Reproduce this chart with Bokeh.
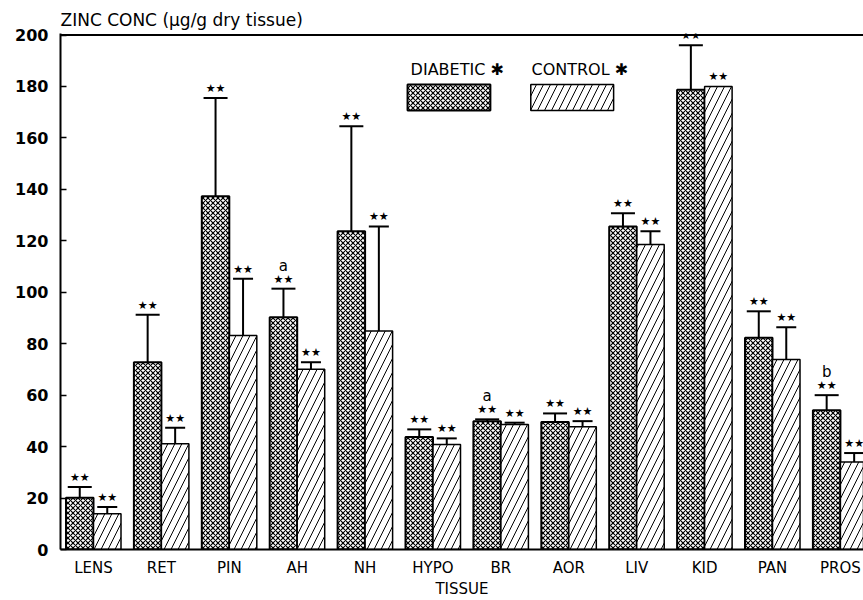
from bokeh.plotting import figure
from bokeh.models import Whisker, TeeHead, ColumnDataSource, Span, FixedTicker, Label, Range1d
from bokeh.core.properties import value
from bokeh.embed import file_html
from bokeh.resources import INLINE

tissues = ["LENS", "RET", "PIN", "AH", "NH", "HYPO", "BR", "AOR", "LIV", "KID", "PAN", "PROS"]
diabetic = [20.1, 72.8, 137.3, 90.3, 123.7, 43.7, 49.9, 49.6, 125.6, 178.7, 82.3, 54.1]
diabetic_err_top = [24.3, 91.3, 175.5, 101.4, 164.5, 46.7, 50.6, 52.9, 130.7, 196.0, 92.6, 60.0]
control = [13.9, 41.1, 83.2, 70.1, 84.9, 40.8, 48.6, 47.7, 118.6, 180.0, 73.9, 34.0]
control_err_top = [16.5, 47.3, 105.3, 72.8, 125.6, 43.2, 49.3, 49.9, 123.7, None, 86.4, 37.5]
control_err_bottom = [None, None, None, None, None, None, None, None, None, 140.0, None, None]
diabetic_letters = ["", "", "", "a", "", "", "a", "", "", "", "", "b"]
y_ticks = [0, 20, 40, 60, 80, 100, 120, 140, 160, 180, 200]

BAR_W = 0.405
idx = list(range(len(tissues)))
xd = [i - BAR_W / 2 for i in idx]
xc = [i + BAR_W / 2 for i in idx]

p = figure(width=863, height=600, output_backend="svg", toolbar_location=None,
           x_range=Range1d(-0.486, 11.34), y_range=Range1d(0, 200.6),
           min_border_left=60, min_border_right=0, min_border_top=33, min_border_bottom=51)
p.background_fill_color = "white"
p.border_fill_color = "white"
p.outline_line_color = None
p.xgrid.visible = False
p.ygrid.visible = False

p.title.text = "ZINC CONC (\u03bcg/g dry tissue)"
p.title.text_font = "DejaVu Sans"
p.title.text_font_size = "17px"
p.title.text_font_style = "normal"
p.title.text_color = "black"
p.title.align = "left"
p.title.standoff = 7

D_STYLE = dict(fill_color="white", line_color="black", line_width=2,
               hatch_pattern="x", hatch_color="black", hatch_scale=5, hatch_weight=1.2)
C_STYLE = dict(fill_color="white", line_color="black", line_width=1.5,
               hatch_pattern="/", hatch_color="black", hatch_scale=14, hatch_weight=1)

dsrc = ColumnDataSource(dict(x=xd, top=diabetic, hi=diabetic_err_top, lab=diabetic_letters))
csrc = ColumnDataSource(dict(x=xc, top=control))

p.vbar(x="x", top="top", width=BAR_W, bottom=0, source=dsrc, **D_STYLE)
p.vbar(x="x", top="top", width=BAR_W, bottom=0, source=csrc, **C_STYLE)

# error bars
p.add_layout(Whisker(base="x", lower="top", upper="hi", source=dsrc, dimension="height",
                     line_width=2, upper_head=TeeHead(size=24, line_width=2), lower_head=None))
cu = ColumnDataSource(dict(x=[xc[i] for i in idx if control_err_top[i] is not None],
                           lo=[control[i] for i in idx if control_err_top[i] is not None],
                           hi=[control_err_top[i] for i in idx if control_err_top[i] is not None]))
p.add_layout(Whisker(base="x", lower="lo", upper="hi", source=cu, dimension="height",
                     line_width=2, upper_head=TeeHead(size=20, line_width=2), lower_head=None))
cl = ColumnDataSource(dict(x=[xc[i] for i in idx if control_err_bottom[i] is not None],
                           lo=[control_err_bottom[i] for i in idx if control_err_bottom[i] is not None],
                           hi=[control[i] for i in idx if control_err_bottom[i] is not None]))
p.add_layout(Whisker(base="x", lower="lo", upper="hi", source=cl, dimension="height",
                     line_width=2, lower_head=TeeHead(size=14, line_width=2), upper_head=None))

# significance stars
star_y_c = [control_err_top[i] if control_err_top[i] is not None else control[i] for i in idx]
p.text(x=xd, y=diabetic_err_top, text=value("\u2605\u2605"), text_font=value("DejaVu Sans"),
       text_font_size="11px", text_align="center", text_baseline="bottom", y_offset=-3,
       text_color="black")
p.text(x=xc, y=star_y_c, text=value("\u2605\u2605"), text_font=value("DejaVu Sans"),
       text_font_size="11px", text_align="center", text_baseline="bottom", y_offset=-3,
       text_color="black")
p.text(x="x", y="hi", text="lab", source=dsrc, text_font=value("DejaVu Sans"),
       text_font_size="15px", text_align="center", text_baseline="bottom", y_offset=-14,
       text_color="black")

# legend
p.rect(x=[5.235], y=[175.7], width=1.22, height=10.1, **D_STYLE)
p.rect(x=[7.05], y=[175.7], width=1.22, height=10.1, **C_STYLE)
for lx, lt in [(4.67, "DIABETIC \u2731"), (6.45, "CONTROL \u2731")]:
    p.add_layout(Label(x=lx, y=186.6, text=lt, text_font="DejaVu Sans", text_font_size="16px",
                       text_baseline="middle", text_align="left", text_color="black"))

# frame top line
p.add_layout(Span(location=200, dimension="width", line_color="black", line_width=2))

# axes
p.yaxis.ticker = FixedTicker(ticks=y_ticks)
p.yaxis.major_tick_in = 6
p.yaxis.major_tick_out = 0
p.yaxis.minor_tick_line_color = None
p.yaxis.major_tick_line_width = 1.5
p.yaxis.axis_line_width = 2
p.yaxis.major_label_text_font = "DejaVu Sans"
p.yaxis.major_label_text_font_style = "bold"
p.yaxis.major_label_text_font_size = "16px"
p.yaxis.major_label_standoff = 12
p.yaxis.major_label_text_color = "black"

p.xaxis.ticker = FixedTicker(ticks=idx)
p.xaxis.major_label_overrides = {i: t for i, t in enumerate(tissues)}
p.xaxis.major_tick_line_color = None
p.xaxis.minor_tick_line_color = None
p.xaxis.axis_line_width = 2
p.xaxis.major_label_text_font = "DejaVu Sans"
p.xaxis.major_label_text_font_size = "15px"
p.xaxis.major_label_standoff = 3
p.xaxis.major_label_text_color = "black"
p.xaxis.axis_label = "TISSUE"
p.xaxis.axis_label_text_font = "DejaVu Sans"
p.xaxis.axis_label_text_font_size = "15px"
p.xaxis.axis_label_text_font_style = "normal"
p.xaxis.axis_label_standoff = 0
p.xaxis.axis_label_text_color = "black"

open("out.html", "w").write(file_html(p, INLINE))
